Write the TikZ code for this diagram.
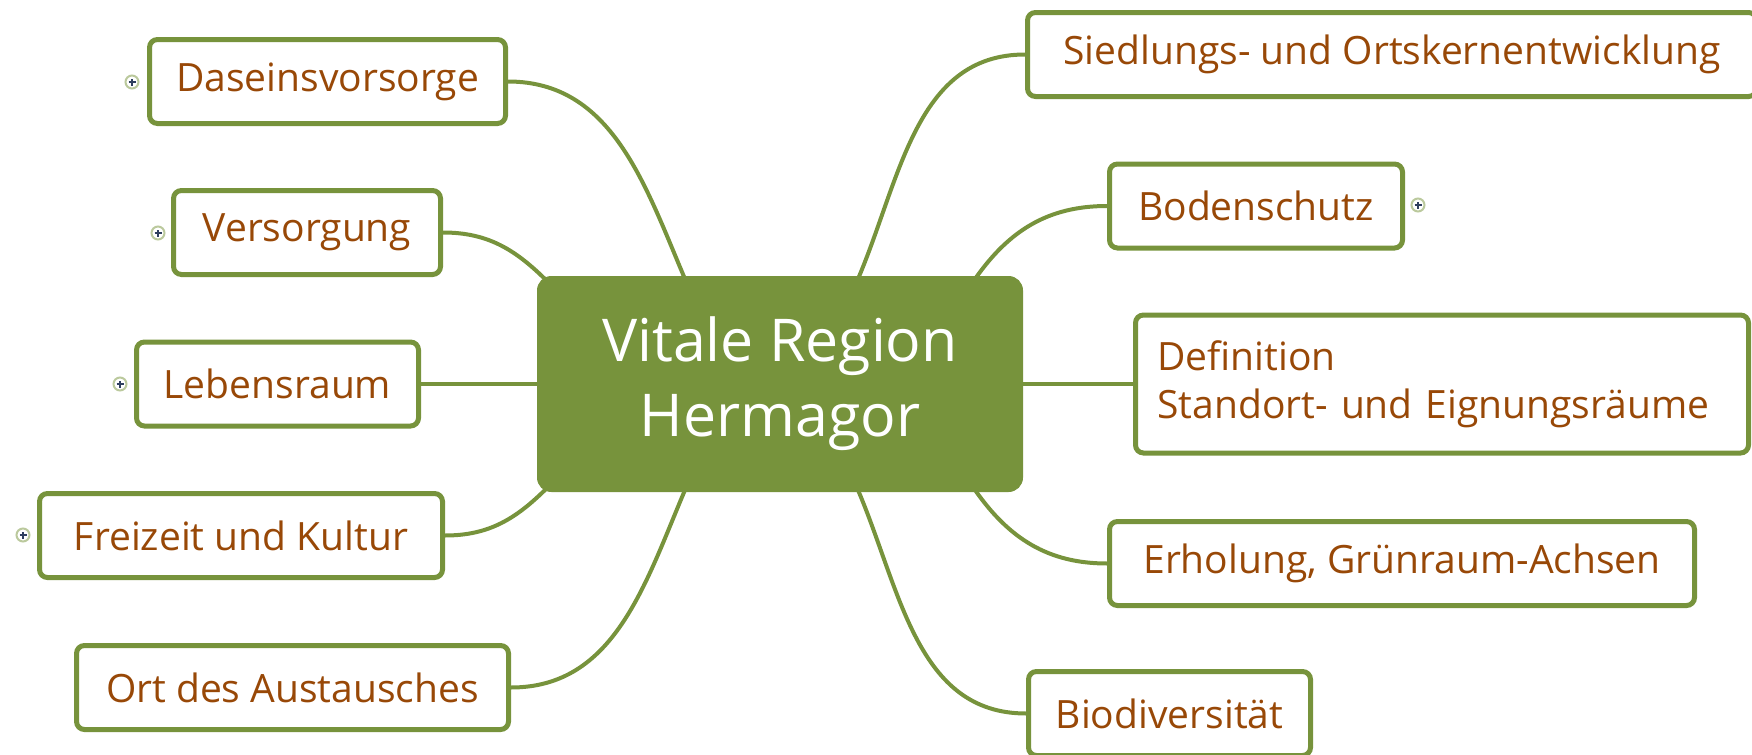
\documentclass[tikz,border=0pt]{standalone}
\usepackage{fontspec}
\setmainfont{Open Sans}
\usepackage{tikz}
\usetikzlibrary{calc}
\definecolor{mapgreen}{HTML}{77933C}
\definecolor{mapbrown}{HTML}{984807}
\definecolor{plusblue}{HTML}{2F3F5F}

\begin{document}
\begin{tikzpicture}[x=0.5pt,y=0.5pt]
    \tikzset{
      hub/.style={draw=mapgreen, fill=mapgreen, rounded corners=7pt, line width=0.5pt, text=white, align=center, font=\fontsize{29.5}{37.5}\selectfont, minimum width=242.5pt, minimum height=107.5pt},
      leaf/.style={draw=mapgreen, fill=white, rounded corners=4pt, line width=2.5pt, text=mapbrown, font=\fontsize{19.5}{24}\selectfont, minimum height=42pt, inner sep=0pt},
      expander/.style={draw=mapgreen!50, circle, line width=1pt, minimum size=6.5pt, inner sep=0pt,
        path picture={\draw[plusblue, line width=0.6pt] ($(path picture bounding box.center)+(-3.5,0)$) -- ($(path picture bounding box.center)+(3.5,0)$) ($(path picture bounding box.center)+(0,-3.5)$) -- ($(path picture bounding box.center)+(0,3.5)$);}},
      line/.style={draw=mapgreen, line width=2pt}
    }
    \useasboundingbox (0,0) rectangle (1752,-755);
    \clip (0,0) rectangle (1752,-755);

    \node [hub] (hub) at (780,-384) {Vitale Region\\Hermagor};

    % left side
    \node [leaf, minimum width=178pt] (dase) at (327.5,-81.5) {Daseinsvorsorge};
    \node [leaf, minimum width=133.5pt] (vers) at (307,-232.5) {Versorgung};
    \node [leaf, minimum width=141pt] (leben) at (277.5,-384) {Lebensraum};
    \node [leaf, minimum width=201.5pt] (frei) at (241,-535.5) {Freizeit und Kultur};
    \node [leaf, minimum width=216pt] (ort) at (292.5,-687.5) {Ort des Austausches};

    % right side
    \node [leaf, minimum width=364.5pt] (sied) at (1392,-54.5) {Siedlungs- und Ortskernentwicklung};
    \node [leaf, minimum width=146.5pt] (boden) at (1256,-206) {Bodenschutz};
    \node [leaf, inner xsep=11pt, text width=284.5pt, minimum height=69pt, align=left] (defn) at (1442,-384) {Definition\\Standort- und Eignungsräume};
    \node [leaf, minimum width=292.5pt] (erh) at (1402,-563.5) {Erholung, Grünraum-Achsen};
    \node [leaf, minimum width=141pt] (bio) at (1169.5,-713.5) {Biodiversität};

    \node [expander] (xdase) at (132,-82) {};
    \node [expander] (xvers) at (158,-233) {};
    \node [expander] (xleben) at (120,-384) {};
    \node [expander] (xfrei) at (23,-535) {};
    \node [expander] (xboden) at (1418,-205) {};

    \coordinate (hA) at (685,-279);
    \coordinate (hB) at (858,-279);
    \coordinate (hC) at (975,-279);
    \coordinate (hD) at (548,-282);
    \coordinate (hE) at (548,-487);
    \coordinate (hF) at (685,-490);
    \coordinate (hG) at (858,-490);
    \coordinate (hH) at (975,-490);

    \path [line] (dase.east) to[out=0, in=113] (hA);
    \path [line] (vers.east) to[out=0, in=135] (hD);
    \path [line] (leben.east) -- (hub.west);
    \path [line] (frei.east) to[out=0, in=225] (hE);
    \path [line] (ort.east) to[out=0, in=247] (hF);
    \path [line] (sied.west) to[out=180, in=67] (hB);
    \path [line] (boden.west) to[out=180, in=55] (hC);
    \path [line] (hub.east) -- (defn.west);
    \path [line] (erh.west) to[out=180, in=-55] (hH);
    \path [line] (bio.west) to[out=180, in=-67] (hG);
\end{tikzpicture}
\end{document}
